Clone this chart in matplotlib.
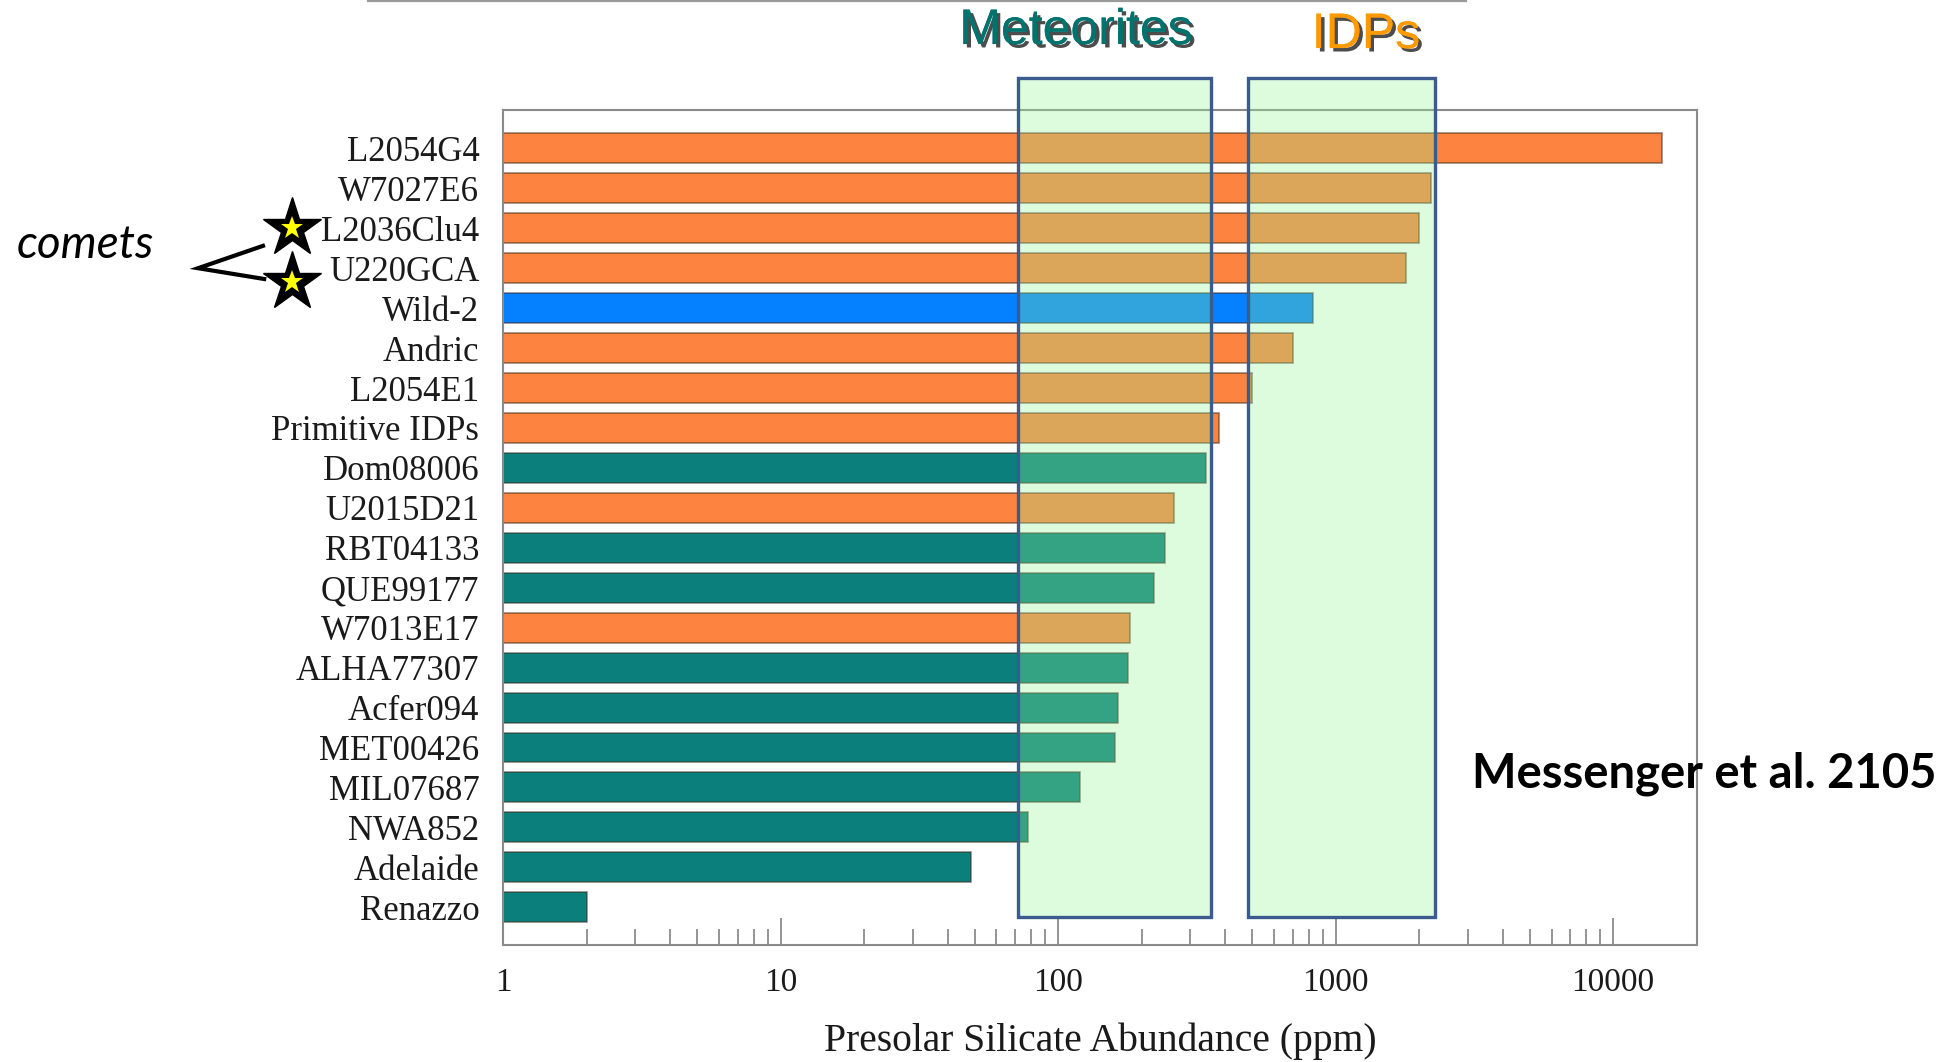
import numpy as np
import matplotlib
matplotlib.use("Agg")
import matplotlib.pyplot as plt
from matplotlib.patches import Rectangle
from matplotlib.lines import Line2D
import matplotlib.transforms as mtransforms
import matplotlib.patheffects as pe
from matplotlib.ticker import LogLocator, NullFormatter, FixedLocator, FixedFormatter

# ---------------- data ----------------
samples = ["L2054G4", "W7027E6", "L2036Clu4", "U220GCA", "Wild-2", "Andric",
           "L2054E1", "Primitive IDPs", "Dom08006", "U2015D21", "RBT04133",
           "QUE99177", "W7013E17", "ALHA77307", "Acfer094", "MET00426",
           "MIL07687", "NWA852", "Adelaide", "Renazzo"]
abundance_ppm = [15000, 2200, 2000, 1800, 830, 700, 500, 380, 340, 262, 243,
                 222, 182, 178, 164, 161, 120, 78, 48.5, 2.0]
sample_type = ["IDP", "IDP", "IDP", "IDP", "Comet", "IDP", "IDP", "IDP",
               "Meteorite", "IDP", "Meteorite", "Meteorite", "IDP",
               "Meteorite", "Meteorite", "Meteorite", "Meteorite",
               "Meteorite", "Meteorite", "Meteorite"]
comet_samples = ["L2036Clu4", "U220GCA"]
meteorite_range = [72, 357]
idp_range = [482, 2276]
x_ticks = [1, 10, 100, 1000, 10000]
x_tick_labels = ["1", "10", "100", "1000", "10000"]

type_colors = {"IDP": "#FD8341", "Meteorite": "#0A7F7C", "Comet": "#0580FF"}

# ---------------- figure ----------------
fig = plt.figure(figsize=(19.57, 10.62), dpi=100)
ax = fig.add_axes([0.257, 0.110, 0.610, 0.786])

y = np.arange(len(samples))
vals = np.array(abundance_ppm, dtype=float)
ax.barh(y, vals - 1, left=1, height=0.75,
        color=[type_colors[t] for t in sample_type],
        edgecolor=(0.25, 0.15, 0.1, 0.55), linewidth=1.2, zorder=2)

ax.set_xscale("log")
ax.set_xlim(1, 20000)
ax.set_ylim(len(samples) - 0.05, -0.95)

ax.xaxis.set_major_locator(FixedLocator(x_ticks))
ax.xaxis.set_major_formatter(FixedFormatter(x_tick_labels))
ax.xaxis.set_minor_locator(LogLocator(base=10, subs=np.arange(2, 10)))
ax.xaxis.set_minor_formatter(NullFormatter())
ax.tick_params(axis="x", which="major", direction="in", length=19.5,
               width=1.1, color="#777777", pad=16, labelsize=24,
               labelcolor="#1a1a1a")
ax.tick_params(axis="x", which="minor", direction="in", length=11.5,
               width=1.1, color="#777777")
for lab in ax.get_xticklabels():
    lab.set_family("Liberation Serif")

ax.set_yticks(y)
ax.set_yticklabels(samples, family="Liberation Serif", fontsize=25,
                   color="#1a1a1a")
ax.tick_params(axis="y", length=0, pad=17)

ax.set_xlabel("Presolar Silicate Abundance (ppm)", family="Liberation Serif",
              fontsize=28.5, color="#1a1a1a", labelpad=18)

for s in ax.spines.values():
    s.set_color("#8a8a8a")
    s.set_linewidth(1.5)

# highlighted ranges
blend = mtransforms.blended_transform_factory(ax.transData, ax.transAxes)
for lo, hi in (meteorite_range, idp_range):
    ax.add_patch(Rectangle((lo, 0.0335), hi - lo, 1.039 - 0.0335,
                           transform=blend, clip_on=False,
                           facecolor=(148 / 255, 245 / 255, 148 / 255, 0.31),
                           edgecolor="#3B5B8E", linewidth=2.4, zorder=3))

shadow = [pe.withSimplePatchShadow(offset=(2.5, -2.5), shadow_rgbFace="black",
                                   alpha=0.7), pe.Normal()]
fig.text(0.5498, 0.9708, "Meteorites", family="Liberation Sans", fontsize=36,
         color="#00736E", ha="center", va="center", path_effects=shadow)
fig.text(0.698, 0.967, "IDPs", family="Liberation Sans", fontsize=36,
         color="#FF9900", ha="center", va="center", path_effects=shadow)

# comets annotation
yblend = mtransforms.blended_transform_factory(ax.transAxes, ax.transData)
comet_rows = [samples.index(c) for c in comet_samples]
star_y = [comet_rows[0], comet_rows[1] + 0.35]
for sy in star_y:
    ax.plot([-0.177], [sy], marker="*", markersize=44, color="black",
            transform=yblend, clip_on=False, zorder=5)
    ax.plot([-0.177], [sy], marker="*", markersize=17, color="#FFFF00",
            markeredgewidth=0, transform=yblend, clip_on=False, zorder=6)
ax.plot([-0.201, -0.2554, -0.200], [comet_rows[0] + 0.44, comet_rows[1],
                                    comet_rows[1] + 0.27],
        color="black", linewidth=3, transform=yblend, clip_on=False,
        solid_joinstyle="miter", zorder=5)
ax.text(-0.350, comet_rows[0] + 0.42, "comets", transform=yblend,
        family="Lato", style="italic", fontsize=33, ha="center", va="center")

fig.text(0.871, 0.271, "Messenger et al. 2105", family="Lato",
         fontweight="bold", fontsize=34, ha="center", va="center")

# top rule
fig.add_artist(Line2D([368 / 1957, 1466 / 1957], [0.999, 0.999],
                      color="#9a9a9a", linewidth=1.6))

fig.savefig("out.png", dpi=100)
